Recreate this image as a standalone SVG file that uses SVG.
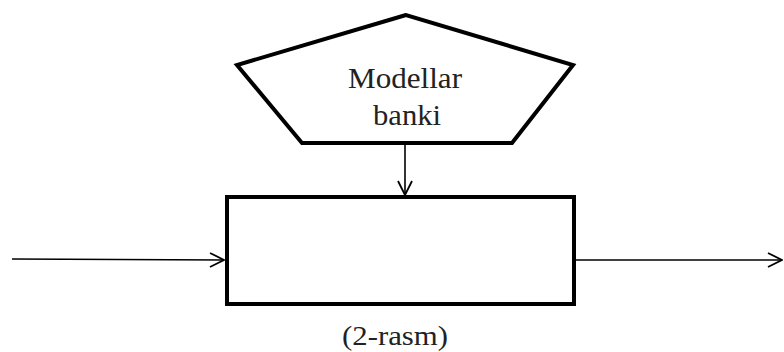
<svg xmlns="http://www.w3.org/2000/svg" width="784" height="352" viewBox="0 0 784 352">
<style>
.shape{fill:#fff;stroke:#000;stroke-width:4;stroke-linejoin:miter}
.conn{stroke:#000;stroke-width:1.6;fill:none}
.lbl{font-family:"Liberation Serif","Times New Roman",serif;fill:#222}
</style>
<defs>
<marker id="arr" viewBox="0 0 16 16" refX="15" refY="8" markerWidth="16" markerHeight="16" markerUnits="userSpaceOnUse" orient="auto">
<path d="M1,1 L15,8 L1,15" fill="none" stroke="#000" stroke-width="1.8"/>
</marker>
</defs>
<rect width="784" height="352" fill="#fff"/>
<g id="bank">
<polygon class="shape" stroke-width="3.5" points="406,15 237,65 302,143 512,143 573,65"/>
<text class="lbl" x="405" y="88" font-size="29" text-anchor="middle" textLength="114" lengthAdjust="spacingAndGlyphs">Modellar</text>
<text class="lbl" x="407" y="125" font-size="29" text-anchor="middle" textLength="68" lengthAdjust="spacingAndGlyphs">banki</text>
</g>
<g id="process">
<rect class="shape" x="227" y="197" width="347" height="107"/>
</g>
<g id="connectors">
<line class="conn" x1="405" y1="145" x2="405" y2="195" marker-end="url(#arr)"/>
<line class="conn" x1="12" y1="259" x2="224" y2="260" marker-end="url(#arr)"/>
<line class="conn" x1="576" y1="260" x2="782" y2="260" marker-end="url(#arr)"/>
</g>
<text class="lbl" x="395" y="345" font-size="27" text-anchor="middle" textLength="106" lengthAdjust="spacingAndGlyphs">(2-rasm)</text>
</svg>
